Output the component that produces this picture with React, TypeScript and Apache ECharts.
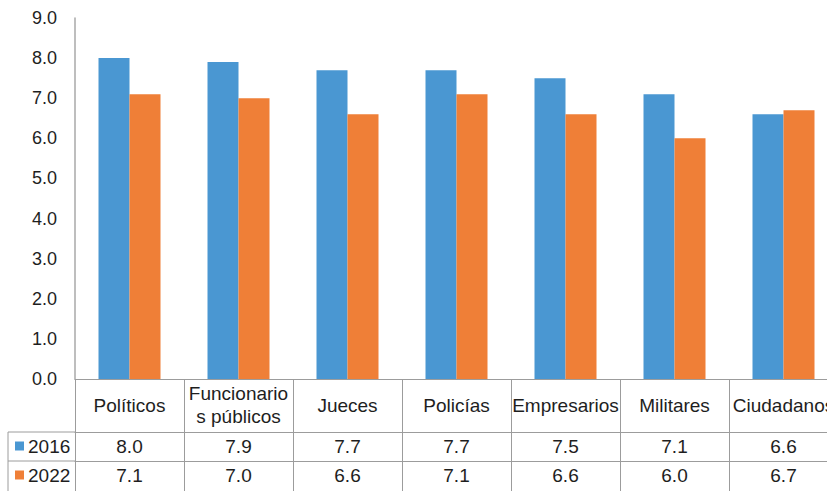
import React, { useEffect, useRef } from "react";
import * as echarts from "echarts";

const categories = [
  "Políticos",
  "Funcionario\ns públicos",
  "Jueces",
  "Policías",
  "Empresarios",
  "Militares",
  "Ciudadanos",
];
const seriesNames = ["2016", "2022"];
const values2016 = [8.0, 7.9, 7.7, 7.7, 7.5, 7.1, 6.6];
const values2022 = [7.1, 7.0, 6.6, 7.1, 6.6, 6.0, 6.7];

const BLUE = "#4a97d2";
const ORANGE = "#ef7f37";
const GRID_LINE = "#9c9c9c";
const TEXT = "#1e1e1e";
const FONT = "'Liberation Sans', Arial, sans-serif";

export default function App() {
  const ref = useRef<HTMLDivElement>(null);

  useEffect(() => {
    if (!ref.current) return;
    const chart = echarts.init(ref.current, undefined, { renderer: "svg" });
    const rowAxis = (offset: number, vals: number[]) => ({
      type: "category",
      data: categories,
      position: "bottom",
      offset,
      axisLine: { show: true, lineStyle: { color: GRID_LINE, width: 1 } },
      axisTick: { show: false },
      axisLabel: {
        interval: 0,
        margin: 14.5,
        verticalAlign: "middle",
        color: TEXT,
        fontSize: 19,
        fontFamily: FONT,
        formatter: (_v: string, i: number) => vals[i].toFixed(1),
      },
    });
    chart.setOption({
      animation: false,
      backgroundColor: "#ffffff",
      textStyle: { fontFamily: FONT },
      grid: {
        left: 75,
        top: 18,
        width: 763,
        height: 361,
        containLabel: false,
        outerBoundsMode: "none",
      },
      legend: {
        show: true,
        orient: "vertical",
        left: 15,
        top: 436,
        padding: 0,
        itemWidth: 9,
        itemHeight: 9,
        itemGap: 9,
        icon: "rect",
        textStyle: { color: TEXT, fontSize: 19, fontFamily: FONT, lineHeight: 20, padding: [0, 0, 0, -1] },
        data: seriesNames,
      },
      xAxis: [
        {
          type: "category",
          data: categories,
          position: "bottom",
          axisLine: { show: true, lineStyle: { color: GRID_LINE, width: 1 } },
          axisTick: { show: true, length: 112, interval: 0, lineStyle: { color: GRID_LINE, width: 1 } },
          axisLabel: {
            interval: 0,
            margin: 26,
            verticalAlign: "middle",
            color: TEXT,
            fontSize: 19,
            lineHeight: 23,
            fontFamily: FONT,
          },
        },
        rowAxis(53, values2016),
        rowAxis(82, values2022),
      ],
      yAxis: {
        type: "value",
        min: 0,
        max: 9,
        interval: 1,
        axisLine: { show: true, lineStyle: { color: "#a8a8a8", width: 1.5 } },
        axisTick: { show: false },
        splitLine: { show: false },
        axisLabel: {
          margin: 18,
          color: TEXT,
          fontSize: 18,
          fontFamily: FONT,
          formatter: (v: number) => v.toFixed(1),
        },
      },
      series: [
        {
          name: seriesNames[0],
          type: "bar",
          data: values2016,
          barWidth: 31,
          barGap: "0%",
          itemStyle: { color: BLUE },
        },
        {
          name: seriesNames[1],
          type: "bar",
          data: values2022,
          barWidth: 31,
          barGap: "0%",
          itemStyle: { color: ORANGE },
        },
      ],
      graphic: [
        { type: "line", shape: { x1: 8, y1: 432, x2: 75, y2: 432 }, style: { stroke: GRID_LINE, lineWidth: 1 } },
        { type: "line", shape: { x1: 8, y1: 461, x2: 75, y2: 461 }, style: { stroke: GRID_LINE, lineWidth: 1 } },
        { type: "line", shape: { x1: 8, y1: 432, x2: 8, y2: 491 }, style: { stroke: GRID_LINE, lineWidth: 1 } },
      ],
    });
    return () => chart.dispose();
  }, []);

  return (
    <div
      ref={ref}
      style={{ position: "absolute", left: 0, top: 0, width: 827, height: 491, background: "#fff" }}
    />
  );
}
